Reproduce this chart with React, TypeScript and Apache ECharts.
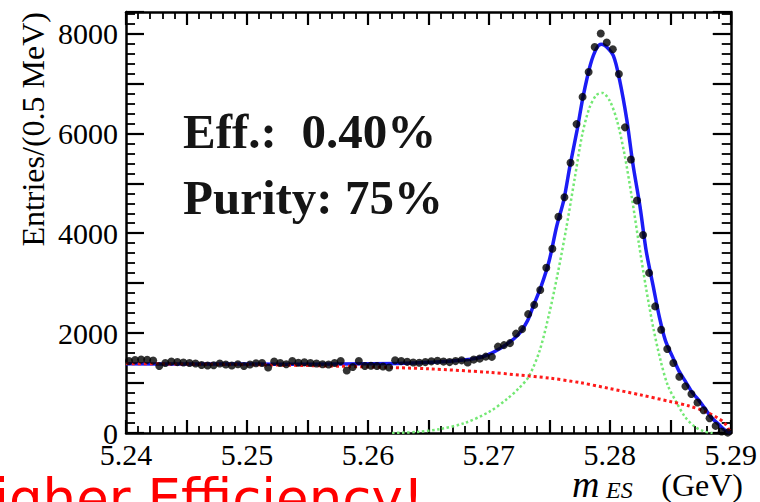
import React, { useEffect, useRef } from 'react';
import * as echarts from 'echarts';

// Histogram: entries per 0.5 MeV bin, from 5.24 GeV
const BIN_START = 5.24;
const BIN_WIDTH = 0.0005;
const counts = [
  1440, 1460, 1470, 1465, 1450, 1340, 1400, 1430, 1420, 1410,
  1400, 1390, 1360, 1350, 1355, 1390, 1370, 1350, 1375, 1340,
  1370, 1395, 1400, 1310, 1430, 1400, 1375, 1440, 1405, 1415,
  1400, 1390, 1375, 1370, 1400, 1440, 1250, 1320, 1440, 1340,
  1345, 1340, 1330, 1310, 1455, 1440, 1425, 1410, 1405, 1420,
  1435, 1445, 1430, 1420, 1440, 1455, 1410, 1470, 1490, 1530,
  1525, 1730, 1760, 1800, 1990, 2080, 2380, 2565, 2865, 3310,
  3690, 4330, 4720, 5410, 6185, 6730, 7230, 7730, 8000, 7820,
  7685, 7190, 6120, 5475, 4655, 3965, 3206, 2535, 2066, 1683,
  1403, 1128, 934, 780, 611, 457, 297, 142, 30, 8,
];

// Total fit (blue)
const totalX = [
  5.24, 5.245, 5.25, 5.255, 5.26, 5.263, 5.266, 5.2683, 5.2697, 5.271,
  5.2724, 5.2732, 5.2737, 5.2743, 5.275, 5.2756, 5.2762, 5.2767, 5.2773, 5.2778,
  5.2784, 5.2789, 5.2793, 5.2797, 5.2803, 5.2808, 5.2814, 5.2819, 5.2825, 5.283,
  5.2836, 5.2841, 5.2846, 5.2852, 5.2857, 5.2863, 5.2868, 5.2874, 5.2879, 5.2884,
  5.289, 5.2895, 5.29,
];
const totalY = [
  1385, 1383, 1380, 1378, 1385, 1395, 1425, 1470, 1545, 1700,
  1960, 2250, 2560, 2920, 3460, 4130, 4670, 5340, 6070, 6745,
  7380, 7700, 7785, 7740, 7550, 7080, 6280, 5400, 4530, 3660,
  2925, 2320, 1850, 1520, 1250, 1015, 815, 645, 480, 310,
  175, 60, 0,
];

// Signal component (green dotted)
const signalX = [
  5.262, 5.264, 5.266, 5.268, 5.27, 5.2715, 5.2725, 5.2733, 5.2742, 5.275,
  5.2757, 5.2764, 5.2771, 5.2777, 5.2783, 5.2789, 5.2794, 5.28, 5.2806, 5.2812,
  5.2818, 5.2824, 5.283, 5.2836, 5.2842, 5.2848, 5.2855, 5.2862, 5.287, 5.2878,
  5.2885,
];
const signalY = [
  0, 20, 80, 200, 420, 680, 900, 1130, 1650, 2400,
  3200, 4100, 5100, 5950, 6500, 6770, 6810, 6650, 6250, 5600,
  4750, 3800, 2900, 2100, 1450, 950, 620, 330, 130, 30,
  0,
];

// Background component (red dotted, ARGUS-like)
const bkgX = [
  5.24, 5.245, 5.25, 5.255, 5.26, 5.265, 5.27, 5.2725, 5.275, 5.2775,
  5.28, 5.2825, 5.285, 5.2865, 5.288, 5.289, 5.2895, 5.29,
];
const bkgY = [
  1390, 1380, 1368, 1350, 1325, 1285, 1215, 1160, 1100, 1010,
  890, 765, 630, 545, 420, 290, 195, 0,
];

const xTickLabels = ['5.24', '5.25', '5.26', '5.27', '5.28', '5.29'];
const yTickLabels = ['0', '2000', '4000', '6000', '8000'];

const SERIF = '"Liberation Serif", "Times New Roman", serif';
const TICK = '#000000';

function zip(xs: number[], ys: number[]) {
  return xs.map((x, i) => [x, ys[i]]);
}

export default function App() {
  const ref = useRef<HTMLDivElement>(null);
  useEffect(() => {
    if (!ref.current) return;
    const chart = echarts.init(ref.current, null, { renderer: 'svg' });

    const xLabelFmt = (v: number) => {
      const s = v.toFixed(2);
      return Math.abs(v * 100 - Math.round(v * 100)) < 1e-6 && xTickLabels.includes(s) ? s : '';
    };
    const yLabelFmt = (v: number) => {
      const s = String(Math.round(v));
      return Math.abs(v - Math.round(v)) < 1e-6 && yTickLabels.includes(s) ? s : '';
    };

    const binData = counts.map((c, i) => [BIN_START + (i + 0.5) * BIN_WIDTH, c]);

    chart.setOption({
      animation: false,
      backgroundColor: '#ffffff',
      grid: { left: 126, right: 20, top: 12, bottom: 69 },
      xAxis: [
        {
          type: 'value', position: 'bottom', min: 5.24, max: 5.29, interval: 0.005,
          axisLine: { show: true, onZero: false, lineStyle: { color: '#000', width: 2.5 } },
          axisTick: { show: true, inside: true, length: 13, lineStyle: { color: TICK, width: 2.2 } },
          minorTick: { show: true, splitNumber: 5, length: 7, lineStyle: { color: TICK, width: 1.8 } },
          splitLine: { show: false },
          axisLabel: { show: true, formatter: xLabelFmt, fontFamily: SERIF, fontSize: 30, color: '#000', margin: 6 },
        },
        {
          type: 'value', position: 'top', min: 5.24, max: 5.29, interval: 0.005,
          axisLine: { show: true, onZero: false, lineStyle: { color: '#000', width: 2.5 } },
          axisTick: { show: true, inside: true, length: 13, lineStyle: { color: TICK, width: 2.2 } },
          minorTick: { show: true, splitNumber: 5, length: 7, lineStyle: { color: TICK, width: 1.8 } },
          splitLine: { show: false },
          axisLabel: { show: false },
        },
      ],
      yAxis: [
        {
          type: 'value', position: 'left', min: 0, max: 8430, interval: 1000,
          axisLine: { show: true, onZero: false, lineStyle: { color: '#000', width: 2.5 } },
          axisTick: { show: true, inside: true, length: 18, lineStyle: { color: TICK, width: 2.2 } },
          minorTick: { show: true, splitNumber: 5, length: 9, lineStyle: { color: TICK, width: 1.8 } },
          splitLine: { show: false },
          axisLabel: { show: true, formatter: yLabelFmt, fontFamily: SERIF, fontSize: 30, color: '#000', margin: 8 },
        },
        {
          type: 'value', position: 'right', min: 0, max: 8430, interval: 1000,
          axisLine: { show: true, onZero: false, lineStyle: { color: '#000', width: 2.5 } },
          axisTick: { show: true, inside: true, length: 18, lineStyle: { color: TICK, width: 2.2 } },
          minorTick: { show: true, splitNumber: 5, length: 9, lineStyle: { color: TICK, width: 1.8 } },
          splitLine: { show: false },
          axisLabel: { show: false },
        },
      ],
      series: [
        {
          name: 'Total fit',
          type: 'line',
          data: zip(totalX, totalY),
          smooth: 0.3,
          showSymbol: false,
          symbol: 'none',
          lineStyle: { color: '#1c1cf5', width: 3.5 },
          z: 2,
        },
        {
          name: 'Signal',
          type: 'line',
          data: zip(signalX, signalY),
          smooth: 0.3,
          showSymbol: false,
          symbol: 'none',
          lineStyle: { color: '#74e874', width: 2.5, type: [2.5, 2.5] },
          z: 3,
        },
        {
          name: 'Background',
          type: 'line',
          data: zip(bkgX, bkgY),
          smooth: 0.3,
          showSymbol: false,
          symbol: 'none',
          lineStyle: { color: '#ff1a1a', width: 3, type: [3, 3] },
          z: 4,
        },
        {
          name: 'Data',
          type: 'scatter',
          data: binData,
          symbol: 'circle',
          symbolSize: 8,
          itemStyle: { color: '#000' },
          z: 5,
        },
      ],
      graphic: [
        {
          type: 'text',
          x: 33,
          y: 12,
          rotation: Math.PI / 2,
          style: {
            text: 'Entries/(0.5 MeV)',
            fontFamily: SERIF,
            fontSize: 32,
            fill: '#000',
            align: 'right',
            verticalAlign: 'middle',
          },
        },
        {
          type: 'text',
          x: 183,
          y: 131,
          style: {
            text: 'Eff.:\u00a0 0.40%',
            fontFamily: SERIF,
            fontWeight: 'bold',
            fontSize: 49,
            fill: '#151515',
            align: 'left',
            verticalAlign: 'middle',
          },
        },
        {
          type: 'text',
          x: 183,
          y: 197,
          style: {
            text: 'Purity: 75%',
            fontFamily: SERIF,
            fontWeight: 'bold',
            fontSize: 49,
            fill: '#151515',
            align: 'left',
            verticalAlign: 'middle',
          },
        },
        {
          type: 'text',
          x: 572,
          y: 484,
          style: {
            text: 'm',
            fontFamily: SERIF,
            fontStyle: 'italic',
            fontSize: 38,
            fill: '#000',
            align: 'left',
            verticalAlign: 'middle',
          },
        },
        {
          type: 'text',
          x: 606,
          y: 490,
          style: {
            text: 'ES',
            fontFamily: SERIF,
            fontStyle: 'italic',
            fontSize: 24,
            fill: '#000',
            align: 'left',
            verticalAlign: 'middle',
          },
        },
        {
          type: 'text',
          x: 743,
          y: 485,
          style: {
            text: '(GeV)',
            fontFamily: SERIF,
            fontSize: 32,
            fill: '#000',
            align: 'right',
            verticalAlign: 'middle',
          },
        },
        {
          type: 'text',
          x: 424,
          y: 498,
          style: {
            text: 'Higher Efficiency!',
            fontFamily: '"DejaVu Sans", sans-serif',
            fontSize: 53,
            fill: '#ff0000',
            align: 'right',
            verticalAlign: 'middle',
          },
        },
      ],
    });

    return () => chart.dispose();
  }, []);

  return (
    <div
      ref={ref}
      style={{ position: 'fixed', left: 0, top: 0, width: 760, height: 502, background: '#fff' }}
    />
  );
}
